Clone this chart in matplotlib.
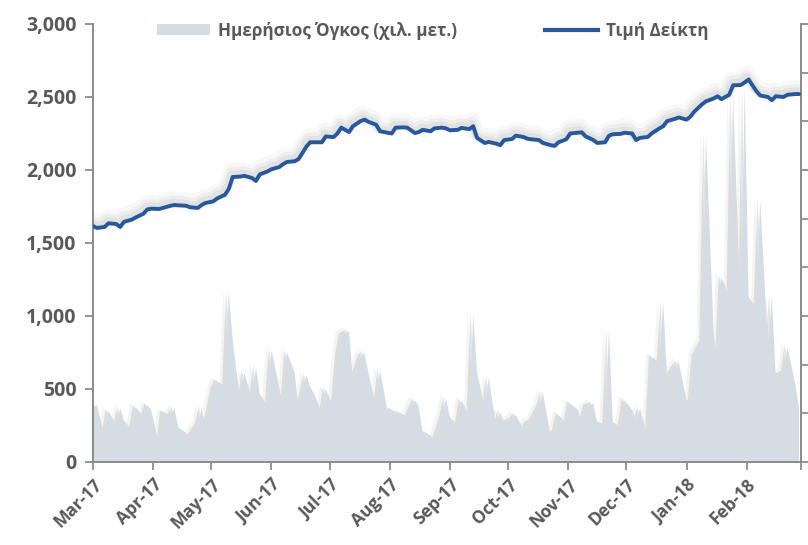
import matplotlib
matplotlib.use("Agg")
import matplotlib.pyplot as plt
import matplotlib.patheffects as pe
from matplotlib.patches import Patch
from matplotlib.lines import Line2D
from matplotlib.ticker import StrMethodFormatter
import pandas as pd

plt.rcParams['font.family'] = ['Open Sans', 'DejaVu Sans']

# one value every second trading day, Mar-17 .. Feb-18
dates = pd.bdate_range('2017-03-01', '2018-02-28', freq='2B')

index_price = [
    1616, 1603, 1610, 1635, 1630, 1610, 1645, 1660, 1675, 1700,
    1730, 1735, 1733, 1740, 1755, 1760, 1758, 1755, 1745, 1740,
    1760, 1774, 1785, 1805, 1830, 1870, 1952, 1955, 1960, 1945,
    1925, 1970, 1990, 2005, 2020, 2040, 2055, 2060, 2075, 2160,
    2190, 2190, 2190, 2230, 2225, 2250, 2290, 2260, 2300, 2335,
    2345, 2330, 2310, 2265, 2255, 2250, 2290, 2292, 2290, 2253,
    2260, 2275, 2265, 2285, 2290, 2285, 2272, 2275, 2288, 2280,
    2300, 2220, 2185, 2192, 2180, 2170, 2205, 2212, 2235, 2226,
    2214, 2210, 2205, 2185, 2170, 2165, 2190, 2210, 2250, 2255,
    2258, 2230, 2205, 2185, 2190, 2235, 2245, 2247, 2255, 2250,
    2205, 2220, 2226, 2250, 2285, 2300, 2335, 2350, 2360, 2345,
    2365, 2400, 2450, 2470, 2490, 2505, 2485, 2515, 2580, 2582,
    2600, 2620, 2540, 2510, 2500, 2478, 2505, 2500, 2515, 2520,
    2520,
]

daily_volume = [
    110, 117, 55, 105, 75, 110, 85, 66, 113, 92,
    117, 107, 35, 100, 95, 110, 70, 60, 51, 76,
    110, 72, 148, 165, 155, 349, 251, 121, 183, 130,
    195, 140, 115, 230, 154, 115, 226, 183, 107, 178,
    154, 140, 101, 150, 113, 210, 260, 269, 168, 216,
    224, 183, 113, 189, 100, 107, 100, 97, 90, 127,
    113, 60, 55, 41, 92, 131, 92, 76, 127, 95,
    302, 185, 110, 173, 72, 103, 80, 86, 97, 66,
    80, 82, 113, 142, 51, 62, 97, 80, 120, 107,
    80, 113, 120, 80, 75, 271, 80, 72, 127, 107,
    80, 110, 51, 216, 203, 329, 170, 195, 205, 127,
    121, 216, 245, 672, 265, 200, 380, 339, 754, 300,
    771, 339, 318, 538, 236, 339, 175, 183, 236, 162,
    110,
]

month_labels = ['Mar-17', 'Apr-17', 'May-17', 'Jun-17', 'Jul-17', 'Aug-17',
                'Sep-17', 'Oct-17', 'Nov-17', 'Dec-17', 'Jan-18', 'Feb-18', '']

legend_labels = ['Ημερήσιος Όγκος (χιλ. μετ.)', 'Τιμή Δείκτη']

grey_txt = '#595959'
axis_col = '#8c8c8c'
area_col = '#d6dce4'
line_col = '#26589a'

fig = plt.figure(figsize=(8.08, 5.45), dpi=100)
ax = fig.add_axes([0.1151, 0.1523, 0.8762, 0.8037])
ax2 = ax.twinx()

# volume on the secondary axis, behind the index line
ax2.fill_between(dates, 0, daily_volume, color=area_col, lw=0, zorder=2,
                 path_effects=[pe.SimplePatchShadow(offset=(-4, 3), shadow_rgbFace='#9a9a9a', alpha=0.10),
                               pe.SimplePatchShadow(offset=(-2, 1.5), shadow_rgbFace='#8a8a8a', alpha=0.22),
                               pe.Normal()])
ax2.set_ylim(0, 900)
ax2.set_yticks(range(0, 901, 100))
ax2.set_yticklabels([])

ax.plot(dates, index_price, color=line_col, lw=2.8, solid_capstyle='round', zorder=3,
        path_effects=[pe.SimpleLineShadow(offset=(-1, 4), shadow_color='#808080', alpha=0.05, linewidth=12),
                      pe.SimpleLineShadow(offset=(-1, 3), shadow_color='#808080', alpha=0.08, linewidth=8),
                      pe.SimpleLineShadow(offset=(-1, 2), shadow_color='#808080', alpha=0.10, linewidth=5),
                      pe.Normal()])
ax.set_zorder(ax2.get_zorder() + 1)
ax.patch.set_visible(False)

ax.set_ylim(0, 3000)
ax.set_yticks(range(0, 3001, 500))
ax.yaxis.set_major_formatter(StrMethodFormatter('{x:,.0f}'))
ax.set_xlim(pd.Timestamp('2017-03-01'), pd.Timestamp('2018-03-01'))
ticks = pd.date_range('2017-03-01', '2018-03-01', freq='MS')
ax.set_xticks(ticks)
ax.set_xticklabels(month_labels, rotation=45, ha='right', rotation_mode='anchor')

for a in (ax, ax2):
    a.spines['top'].set_visible(False)
    for s in ('left', 'right', 'bottom'):
        a.spines[s].set_color(axis_col)
        a.spines[s].set_linewidth(1.3)
    a.tick_params(colors=axis_col, width=1.3, length=6)

ax.tick_params(axis='y', labelsize=14, labelcolor=grey_txt, pad=6)
ax.tick_params(axis='x', labelsize=12.5, labelcolor=grey_txt, pad=4)
for lab in ax.get_xticklabels() + ax.get_yticklabels():
    lab.set_fontweight('bold')

handles = [Patch(facecolor=area_col, edgecolor='none'),
           Line2D([0], [0], color=line_col, lw=3)]
leg = ax.legend(handles, legend_labels, loc='upper center', bbox_to_anchor=(0.48, 1.04),
                ncol=2, frameon=False, fontsize=12.3, handlelength=3.1, handleheight=0.6,
                columnspacing=5.2, handletextpad=0.45)
for t in leg.get_texts():
    t.set_color(grey_txt)
    t.set_fontweight('bold')

fig.savefig('out.png', dpi=100)
